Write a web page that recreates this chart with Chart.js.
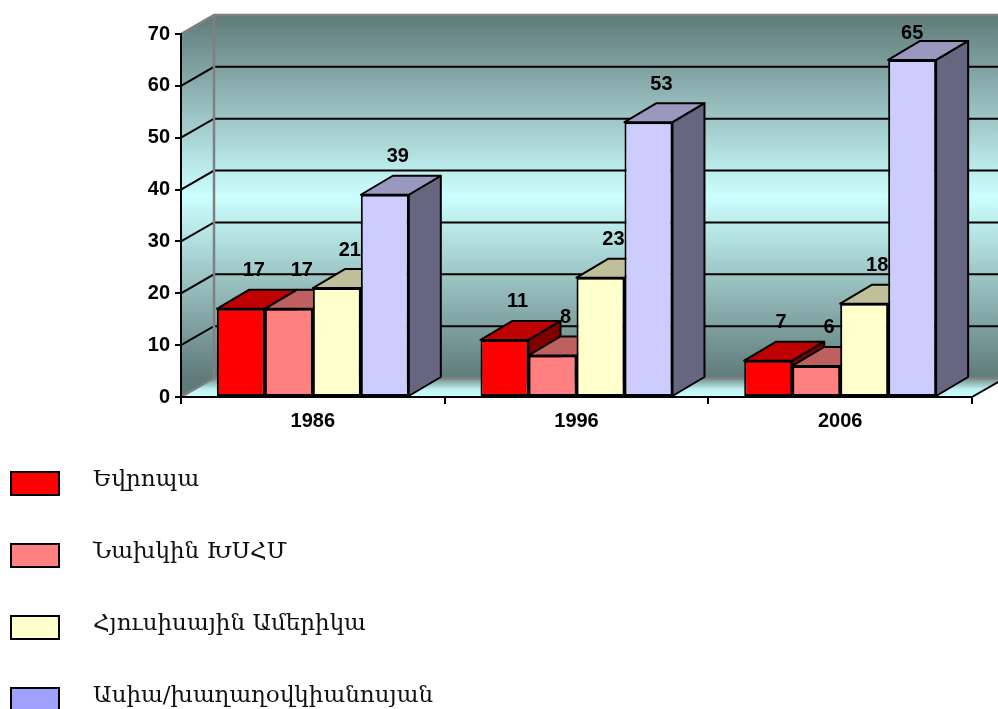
<!DOCTYPE html>
<html>
<head>
<meta charset="utf-8">
<script src="https://cdn.jsdelivr.net/npm/chart.js@4.4.1/dist/chart.umd.min.js"></script>
<style>
  body { margin: 0; background: #fff; }
  #wrap { position: relative; width: 998px; height: 709px; overflow: hidden; }
  #legend .item { position: absolute; left: 0; height: 25px; }
  #legend .box { position: absolute; left: 10px; width: 46px; height: 21px; border: 2px solid #000; }
  #legend .txt { position: absolute; left: 93px; white-space: nowrap; font: 23px "DejaVu Serif", serif; line-height: 26px; color: #111; }
</style>
</head>
<body>
<div id="wrap">
  <canvas id="chart" width="998" height="709"></canvas>
  <div id="legend"></div>
</div>
<script>
const years = ['1986', '1996', '2006'];
const regions = ['Եվրոպա', 'Նախկին ԽՍՀՄ', 'Հյուսիսային Ամերիկա', 'Ասիա/խաղաղօվկիանոսյան'];
const europe = [17, 11, 7];
const formerUSSR = [17, 8, 6];
const northAmerica = [21, 23, 18];
const asiaPacific = [39, 53, 65];
const yTicks = [0, 10, 20, 30, 40, 50, 60, 70];

const barColors = ['#ff0000', '#ff8080', '#ffffcc', '#ccccff'];
const legendColors = ['#ff0000', '#ff8080', '#ffffcc', '#a0a0ff'];

// depth of the 3d box (x to the right, y up)
const DX = 32, DY = -19;
const WALL_DX = 33;
const FONT = '"Liberation Sans", Arial, sans-serif';

const shade = (hex, k) => {
    const n = parseInt(hex.slice(1), 16);
    const r = Math.round(((n >> 16) & 255) * k);
    const g = Math.round(((n >> 8) & 255) * k);
    const b = Math.round((n & 255) * k);
    return `rgb(${r},${g},${b})`;
};

const poly = (ctx, pts, fill, stroke, lw) => {
    ctx.beginPath();
    ctx.moveTo(pts[0][0], pts[0][1]);
    for (let i = 1; i < pts.length; i++) ctx.lineTo(pts[i][0], pts[i][1]);
    ctx.closePath();
    if (fill) { ctx.fillStyle = fill; ctx.fill(); }
    if (stroke) { ctx.strokeStyle = stroke; ctx.lineWidth = lw || 2; ctx.stroke(); }
};

const wallPlugin = {
    id: 'walls',
    beforeDraw(chart) {
        const ctx = chart.ctx;
        const a = chart.chartArea;
        const y = chart.scales.y;
        const top = y.getPixelForValue(70), bot = y.getPixelForValue(0);
        ctx.save();

        const grad = ctx.createLinearGradient(0, top + DY, 0, bot + DY);
        grad.addColorStop(0, '#5f7b79');
        grad.addColorStop(0.5, '#ccffff');
        grad.addColorStop(1, '#5f7b79');

        // back wall
        poly(ctx, [[a.left + WALL_DX, top + DY], [a.right + WALL_DX, top + DY],
                   [a.right + WALL_DX, bot + DY], [a.left + WALL_DX, bot + DY]], grad);
        // side wall
        poly(ctx, [[a.left, top], [a.left + WALL_DX, top + DY],
                   [a.left + WALL_DX, bot + DY], [a.left, bot]], grad);
        // floor
        const fg = ctx.createLinearGradient(0, bot + DY, 0, bot);
        fg.addColorStop(0, '#6f8d8b');
        fg.addColorStop(0.6, '#bff2f2');
        fg.addColorStop(1, '#ccffff');
        poly(ctx, [[a.left, bot], [a.left + WALL_DX, bot + DY],
                   [a.right + WALL_DX, bot + DY], [a.right, bot]], fg);

        // grid lines on back and side walls
        ctx.lineWidth = 2;
        ctx.strokeStyle = '#000';
        yTicks.forEach(v => {
            if (v === 0 || v === 70) return;
            const py = y.getPixelForValue(v);
            ctx.beginPath();
            ctx.moveTo(a.left, py);
            ctx.lineTo(a.left + WALL_DX, py + DY);
            ctx.lineTo(a.right + WALL_DX, py + DY);
            ctx.stroke();
        });

        // wall edges
        ctx.strokeStyle = '#808080';
        ctx.lineWidth = 2.5;
        ctx.beginPath();
        ctx.moveTo(a.left, top);
        ctx.lineTo(a.left + WALL_DX, top + DY);
        ctx.lineTo(a.right + WALL_DX, top + DY);
        ctx.moveTo(a.left + WALL_DX, top + DY);
        ctx.lineTo(a.left + WALL_DX, bot + DY);
        ctx.lineTo(a.right + WALL_DX, bot + DY);
        ctx.moveTo(a.left, bot);
        ctx.lineTo(a.left + WALL_DX, bot + DY);
        ctx.stroke();

        // right edge of the floor
        ctx.strokeStyle = '#000';
        ctx.lineWidth = 2;
        ctx.beginPath();
        ctx.moveTo(a.right, bot);
        ctx.lineTo(a.right + WALL_DX, bot + DY);
        ctx.stroke();
        ctx.restore();
    },
    beforeDatasetsDraw(chart) {
        // top and side faces, drawn left to right so later bars cover earlier sides
        const ctx = chart.ctx;
        ctx.save();
        ctx.lineJoin = 'round';
        years.forEach((_, j) => {
            chart.data.datasets.forEach((ds, i) => {
                const bar = chart.getDatasetMeta(i).data[j];
                const xl = bar.x - bar.width / 2, xr = bar.x + bar.width / 2;
                const yt = bar.y, yb = bar.base;
                poly(ctx, [[xr, yt], [xr + DX, yt + DY], [xr + DX, yb + DY], [xr, yb]],
                     shade(barColors[i], 0.5), '#000', 2);
                poly(ctx, [[xl, yt], [xl + DX, yt + DY], [xr + DX, yt + DY], [xr, yt]],
                     shade(barColors[i], 0.75), '#000', 2);
            });
        });
        ctx.restore();
    },
    afterDatasetsDraw(chart) {
        const ctx = chart.ctx;
        ctx.save();
        ctx.font = 'bold 20px ' + FONT;
        ctx.fillStyle = '#000';
        ctx.textAlign = 'center';
        ctx.textBaseline = 'middle';
        chart.data.datasets.forEach((ds, i) => {
            chart.getDatasetMeta(i).data.forEach((bar, j) => {
                // keep labels inside the plot like the original does for the tallest bar
                const ly = Math.max(bar.y - 38, 33);
                const lx = ly > bar.y - 38 ? bar.x : bar.x + 13;
                ctx.fillText(ds.data[j], lx, ly);
            });
        });
        ctx.restore();
    }
};

const seriesData = [europe, formerUSSR, northAmerica, asiaPacific];

new Chart(document.getElementById('chart'), {
    type: 'bar',
    data: {
        labels: years,
        datasets: regions.map((r, i) => ({
            label: r,
            data: seriesData[i],
            backgroundColor: barColors[i],
            borderColor: '#000',
            borderWidth: 2,
            borderSkipped: false,
            categoryPercentage: 0.728,
            barPercentage: 1.0,
        })),
    },
    options: {
        responsive: false,
        animation: false,
        layout: { padding: { top: 34, right: 26, bottom: 272, left: 0 } },
        plugins: {
            legend: { display: false },
            tooltip: { enabled: false },
        },
        scales: {
            x: {
                afterFit: s => { s.height = 40; },
                grid: { drawOnChartArea: false, tickLength: 7, color: '#000', lineWidth: 2 },
                border: { color: '#000', width: 2 },
                ticks: {
                    color: '#000',
                    padding: 5,
                    font: { family: FONT, size: 20, weight: 'bold' },
                },
            },
            y: {
                min: 0,
                max: 70,
                afterFit: s => { s.width = 181; },
                afterBuildTicks: s => { s.ticks = yTicks.map(v => ({ value: v })); },
                grid: { drawOnChartArea: false, tickLength: 6, color: '#000', lineWidth: 2 },
                border: { color: '#000', width: 2 },
                ticks: {
                    color: '#000',
                    padding: 5,
                    font: { family: FONT, size: 20, weight: 'bold' },
                },
            },
        },
    },
    plugins: [wallPlugin],
});

const legend = document.getElementById('legend');
regions.forEach((r, i) => {
    const item = document.createElement('div');
    item.className = 'item';
    item.style.top = (471 + i * 72) + 'px';
    item.innerHTML = `<div class="box" style="background:${legendColors[i]}"></div>` +
                     `<div class="txt" style="top:-6px">${r}</div>`;
    legend.appendChild(item);
});
</script>
</body>
</html>
